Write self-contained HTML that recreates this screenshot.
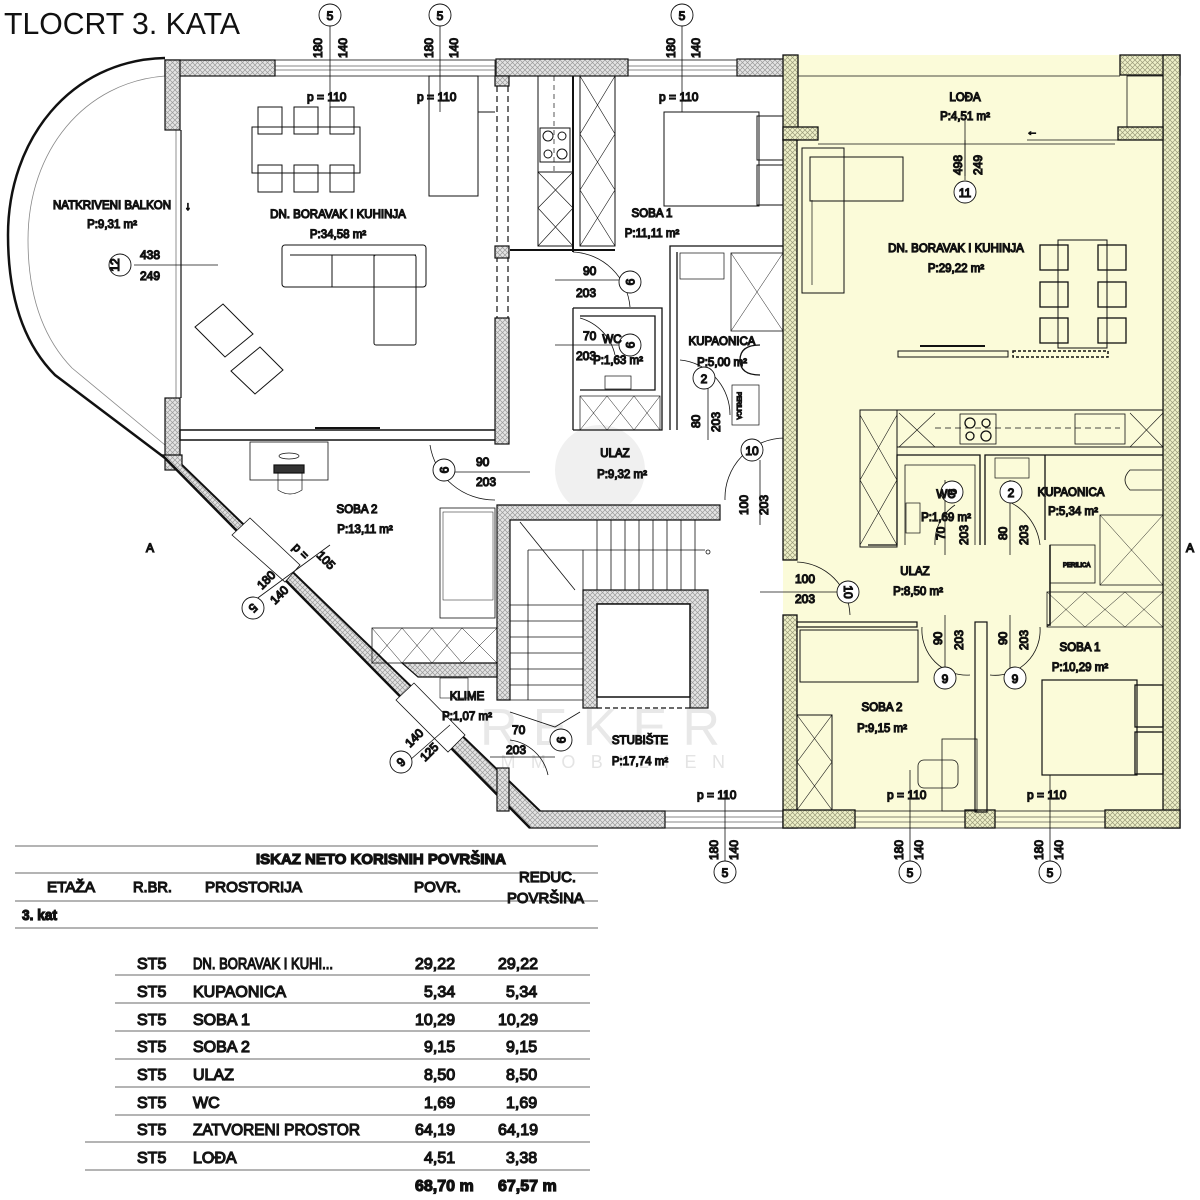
<!DOCTYPE html>
<html><head><meta charset="utf-8"><style>
html,body{margin:0;padding:0;background:#fff;}
svg{display:block;}
text{font-family:"Liberation Sans",sans-serif;font-weight:normal;fill:#333;}
.l{font-size:11.5px;fill:#666;}
.d{font-size:12px;fill:#333;}
.t{font-family:"Liberation Sans",sans-serif;}
</style></head><body>
<svg width="1200" height="1200" viewBox="0 0 1200 1200" xmlns="http://www.w3.org/2000/svg">
<defs>
<pattern id="h" width="5" height="5" patternUnits="userSpaceOnUse">
<rect width="5" height="5" fill="#e4e4e4"/>
<path d="M0,0L5,5M5,0L0,5" stroke="#9a9a9a" stroke-width="0.7"/>
</pattern>
<pattern id="hy" width="5" height="5" patternUnits="userSpaceOnUse">
<rect width="5" height="5" fill="#eef0c8"/>
<path d="M0,0L5,5M5,0L0,5" stroke="#9a9a7a" stroke-width="0.7"/>
</pattern>
</defs>

<text x="4" y="34" class="t" style="font-size:31px;fill:#111" textLength="236" lengthAdjust="spacingAndGlyphs">TLOCRT 3. KATA</text>

<rect x="783" y="55" width="397" height="773" fill="#fbfbd9"/>

<circle cx="600" cy="470" r="45" fill="#f0f0f0"/>
<text x="480" y="745" style="font-size:52px;fill:#e8e8e8" textLength="240" lengthAdjust="spacing">REKER</text>
<text x="480" y="768" style="font-size:18px;fill:#e4e4e4" textLength="245" lengthAdjust="spacing">IMMOBILIEN</text>

<g stroke="#111" fill="none" stroke-width="1.2">
<path d="M165,58 C70,60 8,140 8,235 C8,300 25,345 55,375 L165,458" stroke-width="2.5"/>
<path d="M165,76 C85,82 28,150 28,240 C28,300 45,340 72,368 L165,445" stroke="#888" stroke-width="0.8"/>
<line x1="176" y1="130" x2="176" y2="398" stroke="#777" stroke-width="0.8"/>
<line x1="181" y1="130" x2="181" y2="398"/>

<rect x="165" y="60" width="110" height="16" fill="url(#h)"/>
<rect x="165" y="60" width="15" height="70" fill="url(#h)"/>
<rect x="165" y="398" width="15" height="72" fill="url(#h)"/>
<rect x="275" y="60" width="220" height="16" stroke-width="0.8"/>
<line x1="275" y1="66" x2="495" y2="66" stroke-width="0.6"/><line x1="275" y1="70" x2="495" y2="70" stroke-width="0.6"/>
<rect x="496" y="59" width="132" height="17" fill="url(#h)"/>
<rect x="628" y="60" width="109" height="16" stroke-width="0.8"/>
<line x1="628" y1="66" x2="737" y2="66" stroke-width="0.6"/><line x1="628" y1="70" x2="737" y2="70" stroke-width="0.6"/>
<rect x="737" y="59" width="48" height="17" fill="url(#h)"/>

<polygon points="162,455 182,455 182,465 540,811 665,811 665,828 530,828" fill="url(#h)"/>
<line x1="182" y1="465" x2="540" y2="811" stroke-width="2"/>
<line x1="162" y1="455" x2="530" y2="828" stroke-width="2.5"/>
<polygon points="232,535 250,518 300,565 285,582" fill="#fff" stroke-width="0.8"/>
<polygon points="396,700 414,683 465,735 448,752" fill="#fff" stroke-width="0.8"/>

<rect x="665" y="811" width="118" height="17" stroke-width="0.8"/>
<line x1="665" y1="817" x2="783" y2="817" stroke-width="0.6"/><line x1="665" y1="822" x2="783" y2="822" stroke-width="0.6"/>

<rect x="180" y="430" width="318" height="10" fill="#fff" stroke-width="1.5"/>
<rect x="495" y="318" width="14" height="126" fill="url(#h)"/>
<rect x="495" y="76" width="14" height="10" fill="url(#h)"/>
<line x1="497" y1="86" x2="497" y2="318" stroke-dasharray="6,4"/>
<line x1="508" y1="86" x2="508" y2="318" stroke-dasharray="6,4"/>
<rect x="495" y="246" width="14" height="12" fill="url(#h)"/>

<polygon points="497,505 720,505 720,520 510,520 510,700 497,700" fill="url(#h)"/>
<polygon points="583,590 708,590 708,708 690,708 690,604 597,604 597,708 583,708" fill="url(#h)"/>
<rect x="597" y="604" width="93" height="93" fill="#fff" stroke-width="1.5"/>
<line x1="597" y1="708" x2="690" y2="708" stroke-dasharray="5,3"/>
<rect x="497" y="768" width="12" height="43" fill="url(#h)"/>
<g stroke-width="0.8">
<line x1="520" y1="522" x2="575" y2="590"/>
<line x1="528" y1="550" x2="705" y2="550"/>
<line x1="528" y1="550" x2="528" y2="700"/>
<line x1="583" y1="550" x2="583" y2="700"/>
<line x1="597" y1="520" x2="597" y2="590"/><line x1="611" y1="520" x2="611" y2="590"/><line x1="625" y1="520" x2="625" y2="590"/><line x1="639" y1="520" x2="639" y2="590"/><line x1="653" y1="520" x2="653" y2="590"/><line x1="667" y1="520" x2="667" y2="590"/><line x1="681" y1="520" x2="681" y2="590"/><line x1="695" y1="520" x2="695" y2="590"/>
<line x1="510" y1="605" x2="583" y2="605"/><line x1="510" y1="621" x2="583" y2="621"/><line x1="510" y1="637" x2="583" y2="637"/><line x1="510" y1="653" x2="583" y2="653"/><line x1="510" y1="669" x2="583" y2="669"/><line x1="510" y1="685" x2="583" y2="685"/><line x1="510" y1="700" x2="583" y2="700"/>
<polyline points="510,712 555,727 580,712"/>
<circle cx="708" cy="552" r="2"/>
</g>
<rect x="372" y="628" width="125" height="35" stroke-width="0.8"/>
<path d="M372,628L402,663M402,628L372,663M402,628L432,663M432,628L402,663M432,628L462,663M462,628L432,663M462,628L497,663M497,628L462,663" stroke-width="0.5"/>
<polygon points="402,663 497,663 497,677 418,677" fill="url(#h)"/>
<rect x="440" y="678" width="28" height="20" stroke-width="0.6"/>
<rect x="440" y="508" width="55" height="110" stroke-width="0.8"/>
<rect x="443" y="512" width="50" height="88" stroke-width="0.5"/>
<rect x="250" y="442" width="78" height="38" stroke-width="0.8"/>
<rect x="274" y="465" width="30" height="8" fill="#333"/>
<path d="M278,472 L278,490 Q290,498 302,490 L302,472" stroke-width="0.7"/>
<ellipse cx="289" cy="456" rx="10" ry="3" stroke-width="0.7"/>

<g stroke-width="1">
<rect x="252" y="127" width="108" height="46"/>
<rect x="258" y="107" width="24" height="27"/><rect x="294" y="107" width="24" height="27"/><rect x="330" y="107" width="24" height="27"/>
<rect x="258" y="165" width="24" height="27"/><rect x="294" y="165" width="24" height="27"/><rect x="330" y="165" width="24" height="27"/>
<rect x="282" y="245" width="144" height="42" rx="3"/>
<line x1="290" y1="255" x2="416" y2="255"/>
<line x1="332" y1="255" x2="332" y2="287"/><line x1="374" y1="255" x2="374" y2="287"/>
<rect x="374" y="255" width="42" height="90" rx="2"/>
<polygon points="195,327 223,304 253,334 225,357"/>
<polygon points="231,371 260,347 283,370 255,394"/>
<line x1="315" y1="428" x2="380" y2="428" stroke-width="2"/>
<rect x="429" y="76" width="49" height="120"/>
<line x1="478" y1="112" x2="495" y2="112"/>
<rect x="538" y="76" width="35" height="170"/>
<rect x="540" y="128" width="30" height="34"/>
<circle cx="548" cy="136" r="5"/><circle cx="562" cy="136" r="4"/><circle cx="548" cy="154" r="4"/><circle cx="562" cy="154" r="5"/>
<rect x="538" y="172" width="35" height="74"/>
<path d="M538,172L573,208M573,172L538,208M538,208L573,246M573,208L538,246" stroke-width="0.6"/>
<line x1="554" y1="76" x2="554" y2="172" stroke-dasharray="5,4" stroke-width="0.7"/>
<rect x="580" y="76" width="35" height="170"/>
<path d="M580,76L615,134M615,76L580,134M580,134L615,190M615,134L580,190M580,190L615,246M615,190L580,246" stroke-width="0.6"/>
<line x1="573" y1="76" x2="573" y2="252" stroke-width="2"/>
<line x1="510" y1="250" x2="615" y2="250" stroke-width="2"/>
<rect x="664" y="112" width="95" height="94"/>
<rect x="757" y="116" width="28" height="44"/><rect x="757" y="165" width="28" height="40"/>
</g>
<g stroke-width="1.3">
<polyline points="783,246 670,246 670,430"/>
<polyline points="677,252 677,430"/>
<rect x="680" y="253" width="44" height="26" stroke-width="0.7"/>
<rect x="731" y="253" width="52" height="78" stroke-width="0.8"/>
<path d="M731,253L783,331M783,253L731,331" stroke-width="0.5"/>
<rect x="732" y="385" width="27" height="40" stroke-width="0.7"/>
<path d="M760,345 Q740,345 740,360 Q740,375 760,375"/>
<polyline points="573,308 662,308 662,430 573,430"/>
<polyline points="580,316 655,316 655,390 580,390"/>
<line x1="573" y1="308" x2="573" y2="430"/>
<rect x="605" y="376" width="26" height="13" stroke-width="0.7"/>
<rect x="580" y="396" width="80" height="34" stroke-width="0.7"/>
<path d="M580,396L607,430M607,396L580,430M607,396L634,430M634,396L607,430M634,396L660,430M660,396L634,430" stroke-width="0.5"/>
</g>
<g stroke-width="0.8">
<path d="M573,252 A60,60 0 0 1 630,307"/>
<path d="M580,318 A50,50 0 0 1 615,355"/>
<path d="M680,360 A55,55 0 0 1 730,415"/>
<path d="M430,445 A65,65 0 0 0 495,500"/>
<path d="M785,438 A60,60 0 0 0 725,500"/>
<path d="M510,740 A45,45 0 0 1 548,775"/>
</g>

<g stroke-width="1.3">
<rect x="783" y="55" width="15" height="85" fill="url(#hy)"/>
<rect x="783" y="127" width="35" height="13" fill="url(#hy)"/>
<rect x="1120" y="55" width="60" height="20" fill="url(#hy)"/>
<rect x="1163" y="55" width="17" height="773" fill="url(#hy)"/>
<rect x="1118" y="127" width="45" height="13" fill="url(#hy)"/>
<rect x="1127" y="76" width="36" height="51" stroke-width="0.8"/>
<line x1="798" y1="76" x2="1120" y2="76" stroke-width="0.8"/>
<line x1="818" y1="144" x2="1115" y2="144" stroke-width="0.8"/>
<line x1="965" y1="140" x2="965" y2="176" stroke-width="0.8"/>
<rect x="783" y="140" width="14" height="420" fill="url(#hy)"/>
<rect x="783" y="615" width="14" height="213" fill="url(#hy)"/>
<rect x="783" y="810" width="72" height="18" fill="url(#hy)"/>
<rect x="965" y="810" width="30" height="18" fill="url(#hy)"/>
<rect x="1105" y="810" width="75" height="18" fill="url(#hy)"/>
<rect x="855" y="811" width="110" height="17" stroke-width="0.8"/>
<line x1="855" y1="817" x2="965" y2="817" stroke-width="0.6"/><line x1="855" y1="822" x2="965" y2="822" stroke-width="0.6"/>
<rect x="995" y="811" width="110" height="17" stroke-width="0.8"/>
<line x1="995" y1="817" x2="1105" y2="817" stroke-width="0.6"/><line x1="995" y1="822" x2="1105" y2="822" stroke-width="0.6"/>
<rect x="802" y="148" width="42" height="145" stroke-width="1"/>
<rect x="810" y="157" width="93" height="44" stroke-width="1"/>
<line x1="812" y1="200" x2="812" y2="285" stroke-width="0.7"/>
<rect x="1058" y="240" width="49" height="108" stroke-width="1"/>
<rect x="1040" y="245" width="28" height="25"/><rect x="1098" y="245" width="28" height="25"/>
<rect x="1040" y="282" width="28" height="25"/><rect x="1098" y="282" width="28" height="25"/>
<rect x="1040" y="318" width="28" height="25"/><rect x="1098" y="318" width="28" height="25"/>
<rect x="898" y="351" width="110" height="6" stroke-width="1"/>
<line x1="920" y1="346" x2="985" y2="346" stroke-width="2"/>
<rect x="1013" y="351" width="95" height="6" stroke-dasharray="3,2" stroke-width="1.5"/>
<rect x="897" y="410" width="266" height="37" stroke-width="1"/>
<rect x="860" y="410" width="37" height="137" stroke-width="1"/>
<path d="M860,415L897,480M897,415L860,480M860,480L897,545M897,480L860,545M899,413L935,447M935,413L899,447M1130,413L1163,447M1163,413L1130,447" stroke-width="0.6"/>
<rect x="960" y="414" width="36" height="30" stroke-width="0.8"/>
<circle cx="970" cy="423" r="5"/><circle cx="986" cy="423" r="4"/><circle cx="970" cy="436" r="4"/><circle cx="986" cy="436" r="5"/>
<rect x="1075" y="414" width="50" height="30" stroke-width="0.8"/>
<line x1="935" y1="428" x2="1120" y2="428" stroke-dasharray="6,4" stroke-width="0.7"/>
<polyline points="868,545 897,545 897,455 980,455 980,545"/>
<polyline points="905,545 905,465 975,465 975,545" stroke-width="0.8"/>
<rect x="906" y="503" width="14" height="30" stroke-width="0.7"/>
<polyline points="985,545 985,455 1163,455" />
<line x1="1045" y1="455" x2="1045" y2="540"/>
<rect x="995" y="458" width="34" height="20" stroke-width="0.7"/>
<path d="M1162,470 L1130,470 Q1120,480 1130,490 L1162,490" stroke-width="0.8"/>
<rect x="1100" y="515" width="63" height="70" stroke-width="0.8"/>
<path d="M1100,515L1163,585M1163,515L1100,585" stroke-width="0.5"/>
<rect x="1050" y="545" width="45" height="38" stroke-width="0.8"/>
<polyline points="1050,545 1050,625 1047,625" stroke-width="1.5"/>
<rect x="1047" y="592" width="116" height="35" stroke-width="0.8"/>
<path d="M1047,592L1085,627M1085,592L1047,627M1085,592L1125,627M1125,592L1085,627M1125,592L1163,627M1163,592L1125,627" stroke-width="0.5"/>
<rect x="797" y="622" width="120" height="5" stroke-width="1.2"/>
<rect x="975" y="622" width="12" height="190" stroke-width="1.2"/>
<rect x="800" y="630" width="118" height="52" stroke-width="1"/>
<rect x="797" y="715" width="35" height="95" stroke-width="1"/>
<path d="M797,715L832,762M832,715L797,762M797,762L832,810M832,762L797,810" stroke-width="0.6"/>
<rect x="942" y="739" width="35" height="72" stroke-width="0.8"/>
<rect x="918" y="760" width="40" height="28" rx="6" stroke-width="0.8"/>
<rect x="1042" y="680" width="95" height="95" stroke-width="1.2"/>
<rect x="1135" y="685" width="28" height="42"/><rect x="1135" y="732" width="28" height="42"/>
<path d="M797,562 A55,55 0 0 1 850,615" stroke-width="0.8"/>
<path d="M1005,500 A55,55 0 0 1 1040,545" stroke-width="0.8"/>
<path d="M955,505 A45,45 0 0 0 935,545" stroke-width="0.8"/>
<path d="M922,627 A45,45 0 0 0 970,675" stroke-width="0.8"/>
<path d="M990,675 A45,45 0 0 0 1040,627" stroke-width="0.8"/>
</g>

<g stroke="#111" stroke-width="0.8">
<line x1="330" y1="20" x2="330" y2="112"/>
<line x1="440" y1="20" x2="440" y2="112"/>
<line x1="682" y1="20" x2="682" y2="112"/>
<line x1="134" y1="265" x2="218" y2="265"/>
<line x1="965" y1="118" x2="965" y2="180"/>
<line x1="1027" y1="140" x2="1127" y2="140"/>
<line x1="725" y1="790" x2="725" y2="862"/>
<line x1="910" y1="770" x2="910" y2="862"/>
<line x1="1050" y1="775" x2="1050" y2="862"/>
<line x1="555" y1="280" x2="625" y2="280"/>
<line x1="555" y1="345" x2="625" y2="345"/>
<line x1="450" y1="472" x2="530" y2="472"/>
<line x1="760" y1="460" x2="760" y2="525"/>
<line x1="708" y1="375" x2="708" y2="440"/>
<line x1="760" y1="592" x2="845" y2="592"/>
<line x1="945" y1="480" x2="945" y2="555"/>
<line x1="1010" y1="480" x2="1010" y2="555"/>
<line x1="945" y1="615" x2="945" y2="670"/>
<line x1="1010" y1="615" x2="1010" y2="670"/>
<line x1="490" y1="757" x2="555" y2="757"/>
<line x1="255" y1="600" x2="330" y2="545"/>
<line x1="410" y1="760" x2="450" y2="725"/>
</g>
<g fill="#fff" stroke="#111" stroke-width="0.9">
<circle cx="330" cy="15" r="11"/><circle cx="440" cy="15" r="11"/><circle cx="682" cy="15" r="11"/>
<circle cx="120" cy="265" r="11"/><circle cx="965" cy="192" r="11"/>
<circle cx="725" cy="872" r="11"/><circle cx="910" cy="872" r="11"/><circle cx="1050" cy="872" r="11"/>
<circle cx="630" cy="282" r="11"/><circle cx="630" cy="345" r="11"/><circle cx="704" cy="378" r="11"/>
<circle cx="444" cy="470" r="11"/><circle cx="752" cy="450" r="11"/><circle cx="848" cy="592" r="11"/>
<circle cx="952" cy="492" r="11"/><circle cx="1011" cy="492" r="11"/>
<circle cx="945" cy="678" r="11"/><circle cx="1015" cy="678" r="11"/>
<circle cx="561" cy="740" r="11"/><circle cx="253" cy="608" r="11"/><circle cx="401" cy="762" r="11"/>
</g>
<g class="d" text-anchor="middle">
<text x="330" y="20">5</text><text x="440" y="20">5</text><text x="682" y="20">5</text>
<text x="965" y="197">11</text>
<text x="725" y="877">5</text><text x="910" y="877">5</text><text x="1050" y="877">5</text>
<text x="704" y="383">2</text><text x="752" y="455">10</text><text x="1011" y="497">2</text>
<text x="945" y="683">9</text><text x="1015" y="683">9</text>
<text transform="translate(115,265) rotate(-90)" y="4">12</text>
<text transform="translate(630,282) rotate(90)" y="4">9</text>
<text transform="translate(630,345) rotate(90)" y="4">9</text>
<text transform="translate(444,470) rotate(90)" y="4">9</text>
<text transform="translate(848,592) rotate(90)" y="4">10</text>
<text transform="translate(952,492) rotate(90)" y="4">9</text>
<text transform="translate(561,740) rotate(90)" y="4">9</text>
<text transform="translate(253,608) rotate(135)" y="4">5</text>
<text transform="translate(401,762) rotate(135)" y="4">6</text>
</g>
<g class="d">
<text transform="translate(322,58) rotate(-90)">180</text><text transform="translate(347,58) rotate(-90)">140</text>
<text transform="translate(433,58) rotate(-90)">180</text><text transform="translate(458,58) rotate(-90)">140</text>
<text transform="translate(675,58) rotate(-90)">180</text><text transform="translate(700,58) rotate(-90)">140</text>
<text transform="translate(962,175) rotate(-90)">498</text><text transform="translate(982,175) rotate(-90)">249</text>
<text transform="translate(718,860) rotate(-90)">180</text><text transform="translate(738,860) rotate(-90)">140</text>
<text transform="translate(903,860) rotate(-90)">180</text><text transform="translate(923,860) rotate(-90)">140</text>
<text transform="translate(1043,860) rotate(-90)">180</text><text transform="translate(1063,860) rotate(-90)">140</text>
<text transform="translate(700,428) rotate(-90)">80</text><text transform="translate(720,432) rotate(-90)">203</text>
<text transform="translate(748,515) rotate(-90)">100</text><text transform="translate(768,515) rotate(-90)">203</text>
<text transform="translate(945,540) rotate(-90)">70</text><text transform="translate(968,545) rotate(-90)">203</text>
<text transform="translate(1007,540) rotate(-90)">80</text><text transform="translate(1028,545) rotate(-90)">203</text>
<text transform="translate(942,645) rotate(-90)">90</text><text transform="translate(963,650) rotate(-90)">203</text>
<text transform="translate(1007,645) rotate(-90)">90</text><text transform="translate(1028,650) rotate(-90)">203</text>
<text transform="translate(262,590) rotate(-45)">180</text><text transform="translate(275,605) rotate(-45)">140</text>
<text transform="translate(410,748) rotate(-45)">140</text><text transform="translate(425,762) rotate(-45)">125</text>
<text transform="translate(292,548) rotate(45)">p =</text><text transform="translate(316,556) rotate(45)">105</text>
<text x="140" y="259">438</text><text x="140" y="280">249</text>
<text x="583" y="275">90</text><text x="576" y="297">203</text>
<text x="583" y="340">70</text><text x="576" y="360">203</text>
<text x="476" y="466">90</text><text x="476" y="486">203</text>
<text x="795" y="583">100</text><text x="795" y="603">203</text>
<text x="512" y="734">70</text><text x="506" y="754">203</text>
<text x="307" y="101">p = 110</text><text x="417" y="101">p = 110</text><text x="659" y="101">p = 110</text>
<text x="697" y="799">p = 110</text><text x="887" y="799">p = 110</text><text x="1027" y="799">p = 110</text>
</g>
<g class="l" text-anchor="middle">
<text x="112" y="209">NATKRIVENI BALKON</text><text x="112" y="228">P:9,31 m²</text>
<text x="188" y="210">↓</text>
<text x="338" y="218">DN. BORAVAK I KUHINJA</text><text x="338" y="238">P:34,58 m²</text>
<text x="652" y="217">SOBA 1</text><text x="652" y="237">P:11,11 m²</text>
<text x="612" y="343">WC</text><text x="618" y="364">P:1,63 m²</text>
<text x="722" y="345">KUPAONICA</text><text x="722" y="366">P:5,00 m²</text>
<text x="615" y="457">ULAZ</text><text x="622" y="478">P:9,32 m²</text>
<text x="357" y="513">SOBA 2</text><text x="365" y="533">P:13,11 m²</text>
<text x="467" y="700">KLIME</text><text x="467" y="720">P:1,07 m²</text>
<text x="640" y="744">STUBIŠTE</text><text x="640" y="765">P:17,74 m²</text>
<text x="965" y="101">LOĐA</text><text x="965" y="120">P:4,51 m²</text>
<text x="1032" y="135">←</text>
<text x="956" y="252">DN. BORAVAK I KUHINJA</text><text x="956" y="272">P:29,22 m²</text>
<text x="946" y="498">WC</text><text x="946" y="521">P:1,69 m²</text>
<text x="1071" y="496">KUPAONICA</text><text x="1073" y="515">P:5,34 m²</text>
<text x="915" y="575">ULAZ</text><text x="918" y="595">P:8,50 m²</text>
<text x="1080" y="651">SOBA 1</text><text x="1080" y="671">P:10,29 m²</text>
<text x="882" y="711">SOBA 2</text><text x="882" y="732">P:9,15 m²</text>
</g>
<text x="146" y="552" class="d">A</text>
<text x="1186" y="552" class="d">A</text>
<text x="1063" y="567" style="font-size:6px">PERILICA</text>
<text transform="translate(737,392) rotate(90)" style="font-size:6px">PERILICA</text>

<g stroke="#888" stroke-width="1.2">
<line x1="15" y1="846" x2="598" y2="846"/>
<line x1="15" y1="873" x2="598" y2="873"/>
<line x1="15" y1="901" x2="598" y2="901"/>
<line x1="15" y1="928" x2="598" y2="928"/>
<line x1="115" y1="975" x2="590" y2="975"/>
<line x1="115" y1="1003" x2="590" y2="1003"/>
<line x1="115" y1="1031" x2="590" y2="1031"/>
<line x1="115" y1="1059" x2="590" y2="1059"/>
<line x1="115" y1="1087" x2="590" y2="1087"/>
<line x1="115" y1="1115" x2="590" y2="1115"/>
<line x1="85" y1="1142" x2="590" y2="1142"/>
<line x1="85" y1="1170" x2="590" y2="1170"/>
</g>
<g style="font-size:15px" class="t">
<text x="256" y="864" style="font-weight:bold;fill:#111" textLength="250" lengthAdjust="spacingAndGlyphs">ISKAZ NETO KORISNIH POVRŠINA</text>
<text x="47" y="892" textLength="48" lengthAdjust="spacingAndGlyphs">ETAŽA</text>
<text x="133" y="892" textLength="39" lengthAdjust="spacingAndGlyphs">R.BR.</text>
<text x="205" y="892" textLength="97" lengthAdjust="spacingAndGlyphs">PROSTORIJA</text>
<text x="414" y="892" textLength="47" lengthAdjust="spacingAndGlyphs">POVR.</text>
<text x="519" y="882" textLength="57" lengthAdjust="spacingAndGlyphs">REDUC.</text>
<text x="507" y="903" textLength="77" lengthAdjust="spacingAndGlyphs">POVRŠINA</text>
<text x="22" y="920" style="font-weight:bold;fill:#111" textLength="35" lengthAdjust="spacingAndGlyphs">3. kat</text>
</g>
<g style="font-size:16px" class="t">
<text x="137" y="969">ST5</text><text x="193" y="969" textLength="140" lengthAdjust="spacingAndGlyphs">DN. BORAVAK I KUHI...</text><text x="415" y="969">29,22</text><text x="498" y="969">29,22</text>
<text x="137" y="997">ST5</text><text x="193" y="997">KUPAONICA</text><text x="424" y="997">5,34</text><text x="506" y="997">5,34</text>
<text x="137" y="1025">ST5</text><text x="193" y="1025">SOBA 1</text><text x="415" y="1025">10,29</text><text x="498" y="1025">10,29</text>
<text x="137" y="1052">ST5</text><text x="193" y="1052">SOBA 2</text><text x="424" y="1052">9,15</text><text x="506" y="1052">9,15</text>
<text x="137" y="1080">ST5</text><text x="193" y="1080">ULAZ</text><text x="424" y="1080">8,50</text><text x="506" y="1080">8,50</text>
<text x="137" y="1108">ST5</text><text x="193" y="1108">WC</text><text x="424" y="1108">1,69</text><text x="506" y="1108">1,69</text>
<text x="137" y="1135">ST5</text><text x="193" y="1135" textLength="167" lengthAdjust="spacingAndGlyphs">ZATVORENI PROSTOR</text><text x="415" y="1135">64,19</text><text x="498" y="1135">64,19</text>
<text x="137" y="1163">ST5</text><text x="193" y="1163">LOĐA</text><text x="424" y="1163">4,51</text><text x="506" y="1163">3,38</text>
<text x="415" y="1191" style="font-weight:bold;fill:#111">68,70 m</text><text x="498" y="1191" style="font-weight:bold;fill:#111">67,57 m</text>
</g>
</svg>
</body></html>
